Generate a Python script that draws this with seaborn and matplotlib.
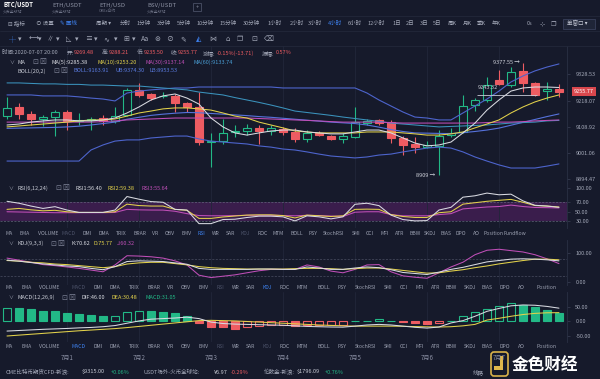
import numpy as np
import pandas as pd
import matplotlib
matplotlib.use("Agg")
import matplotlib.pyplot as plt
from matplotlib.patches import Rectangle, FancyBboxPatch
from matplotlib.transforms import blended_transform_factory
import seaborn as sns

# ---------------- data ----------------
day_labels = ["7月1", "7月2", "7月3", "7月4", "7月5", "7月6", "7月7"]
day_first_candle = [5, 11, 17, 23, 29, 35, 41]

opens = [9155, 9194, 9162, 9143, 9150, 9170, 9134, 9139, 9149, 9136,
         9159, 9263, 9245, 9237, 9238, 9208, 9194, 9048, 9052, 9087,
         9092, 9106, 9094, 9101, 9090, 9058, 9086, 9073, 9059, 9066,
         9127, 9138, 9131, 9062, 9037, 9027, 9030, 9076, 9090, 9201,
         9224, 9305, 9284, 9342, 9294, 9260, 9269.48]
highs = [9235, 9208, 9176, 9160, 9180, 9180, 9166, 9152, 9159, 9193,
         9271, 9291, 9250, 9256, 9249, 9214, 9256, 9085, 9145, 9118,
         9124, 9118, 9118, 9111, 9104, 9097, 9095, 9076, 9083, 9194,
         9145, 9145, 9138, 9072, 9066, 9051, 9097, 9104, 9242, 9231,
         9316, 9346, 9360, 9377.55, 9298, 9298, 9288.21]
lows = [9145, 9141, 9118, 9114, 9072, 9097, 9117, 9097, 9120, 9125,
        9155, 9235, 9221, 9229, 9173, 9173, 9034, 8942, 9041, 9066,
        9076, 9038, 9076, 9076, 9048, 9048, 9072, 9055, 9044, 9062,
        9118, 9118, 9044, 8993, 9002, 9024, 8909, 9066, 9086, 9176,
        9214, 9286, 9277, 9256, 9238, 9224, 9235.50]
closes = [9190, 9163, 9143, 9150, 9170, 9134, 9140, 9141, 9134, 9155,
          9263, 9242, 9231, 9239, 9208, 9194, 9048, 9052, 9085, 9093,
          9105, 9094, 9104, 9087, 9058, 9083, 9076, 9059, 9072, 9129,
          9134, 9125, 9062, 9034, 9027, 9034, 9072, 9086, 9197, 9222,
          9284, 9288, 9340, 9294, 9242, 9267, 9255.77]

ma5 = [9118, 9122, 9130, 9135, 9139, 9139, 9135, 9135, 9139, 9147,
       9168, 9193, 9222, 9239, 9247, 9230, 9205, 9147, 9110, 9085,
       9076, 9085, 9093, 9097, 9097, 9089, 9085, 9081, 9081, 9089,
       9097, 9097, 9085, 9064, 9043, 9031, 9035, 9047, 9085, 9126,
       9180, 9222, 9259, 9272, 9276, 9276, 9274]
ma10 = [9110, 9114, 9118, 9122, 9126, 9130, 9135, 9139, 9139, 9143,
        9155, 9168, 9176, 9185, 9189, 9189, 9185, 9180, 9168, 9155,
        9147, 9130, 9118, 9106, 9093, 9089, 9085, 9085, 9085, 9085,
        9089, 9089, 9089, 9085, 9081, 9076, 9076, 9081, 9089, 9106,
        9122, 9139, 9168, 9193, 9214, 9230, 9243]
ma30 = [9130, 9130, 9130, 9130, 9130, 9130, 9130, 9130, 9132, 9135,
        9139, 9141, 9143, 9145, 9147, 9147, 9147, 9147, 9147, 9147,
        9147, 9145, 9143, 9141, 9139, 9137, 9135, 9132, 9130, 9130,
        9130, 9130, 9128, 9126, 9126, 9126, 9126, 9126, 9126, 9126,
        9128, 9130, 9130, 9132, 9135, 9137, 9139]
ma60 = [9293, 9293, 9291, 9289, 9289, 9287, 9287, 9284, 9284, 9282,
        9280, 9280, 9276, 9272, 9268, 9264, 9255, 9249, 9243, 9232,
        9222, 9212, 9201, 9189, 9176, 9170, 9164, 9158, 9151, 9145,
        9139, 9133, 9126, 9122, 9118, 9114, 9110, 9112, 9114, 9116,
        9118, 9122, 9126, 9128, 9130, 9135, 9137]
boll_mid = [9104, 9105, 9106, 9107, 9108, 9110, 9113, 9118, 9124, 9130,
            9142, 9150, 9158, 9163, 9167, 9170, 9169, 9166, 9163, 9160,
            9157, 9153, 9150, 9146, 9142, 9138, 9134, 9130, 9127, 9124,
            9118, 9109, 9099, 9091, 9085, 9084, 9083, 9082, 9086, 9091,
            9097, 9105, 9117, 9129, 9141, 9153, 9164]
boll_ub = [9243, 9243, 9243, 9239, 9239, 9239, 9235, 9230, 9226, 9218,
           9251, 9259, 9264, 9268, 9272, 9272, 9276, 9276, 9276, 9276,
           9276, 9276, 9276, 9272, 9272, 9272, 9272, 9272, 9272, 9272,
           9251, 9222, 9197, 9172, 9151, 9147, 9139, 9139, 9168, 9197,
           9226, 9259, 9297, 9322, 9343, 9359, 9372]
boll_lb = [8968, 8968, 8968, 8968, 8968, 8968, 8968, 9014, 9035, 9051,
           9056, 9056, 9064, 9068, 9072, 9072, 9060, 9051, 9047, 9043,
           9039, 9031, 9026, 9018, 9014, 9006, 8997, 8989, 8985, 8981,
           8985, 8993, 8997, 9006, 9014, 9022, 9026, 9022, 9006, 8985,
           8968, 8952, 8939, 8939, 8939, 8947, 8956]

price_ticks = [9328.53, 9218.07, 9108.92, 9001.06, 8894.47]
last_price = 9255.77
max_idx, max_price = 43, 9377.55
min_idx, min_price = 36, 8909
drawn_line_price = 9243.32

rsi1 = [72, 67.9, 62, 57, 60.7, 53.6, 48.6, 48.6, 48.6, 53.6,
        82, 76.4, 71.4, 70, 55, 53.6, 25, 25, 33.6, 34.3,
        37.9, 40.7, 40.7, 39.3, 30.7, 41.4, 39.3, 35, 39.3, 65.7,
        67.9, 62.9, 42.9, 33.6, 30.7, 31.4, 53.6, 59.3, 80.7, 83.6,
        89.3, 85.7, 87, 72.9, 63.6, 62, 59.3]
rsi2 = [55, 57, 54, 52, 53, 50, 48.6, 48.6, 48.6, 50,
        66, 63, 62, 62, 55, 53, 36, 36, 39, 41,
        43, 43.5, 43.5, 42, 37, 43, 41.5, 40, 41.5, 55,
        55.5, 55, 44, 40, 38, 38, 48, 50, 66, 69,
        72, 74, 76, 70, 63, 62, 60]
rsi3 = [50, 49.5, 49, 48.5, 48, 48, 48, 48, 48, 48.5,
        55, 54, 53.6, 53.5, 51, 46, 42, 41.5, 41.5, 42,
        42.5, 42.5, 42.5, 42, 41.5, 42.5, 42, 41, 40, 49,
        50, 50, 44, 41.5, 41.5, 41.5, 44, 46, 56, 58,
        60, 61, 64, 61, 59, 58.6, 58]
rsi_ticks = [30, 50, 70, 100]

k_line = [75.3, 71.8, 67, 62.4, 58.8, 55.3, 53, 47, 42.4, 53,
          70.6, 73, 71.8, 70.6, 65.9, 61.2, 47, 43.5, 43.5, 43.5,
          43.5, 44.7, 44.7, 43.5, 43.5, 51.8, 48.2, 43.5, 43.5, 48.2,
          51.8, 49.4, 42.4, 32.9, 29.4, 25.9, 34.1, 43.5, 50.6, 60,
          69.4, 74.1, 78.8, 80, 78.8, 76.5, 72.9]
d_line = [74, 72, 68, 66, 62, 60, 56.5, 53, 49.4, 53,
          62, 66, 68, 68, 63.5, 59, 53, 49.4, 47, 46,
          44.7, 44.7, 44.7, 44.7, 46, 47, 47, 46, 43.5, 46,
          48.2, 48.2, 44.7, 40, 35.3, 30.6, 31.8, 37.6, 42.4, 49.4,
          55.3, 62.4, 68.2, 74, 78.8, 78.8, 76.5]
j_line = [82.4, 75.3, 68.2, 60, 56.5, 51.8, 47, 41.2, 35.3, 58.8,
          90.6, 89.4, 87, 82.4, 72.9, 58.8, 23.5, 15.3, 20, 24.7,
          31.8, 38.8, 43.5, 43.5, 43.5, 58.8, 51.8, 37.6, 31.8, 43.5,
          58.8, 60, 35.3, 21.2, 16.5, 12.9, 31.8, 51.8, 68.2, 94.1,
          109.4, 112.9, 108.2, 103.5, 94.1, 80, 63.5]
kdj_ticks = [0, 100]

dif = [-33, -31, -29, -27, -25.5, -24, -22, -20.5, -18, -14,
       -6, 2, 8, 10, 12, 15, 10, -2, -7, -9,
       -10, -11, -12, -13, -15, -17, -18, -19, -19.5, -16,
       -12, -10, -12, -16, -20, -22.7, -19, -5, 3, 18,
       35, 45, 54, 57, 56, 52, 46]
dea = [-50, -47, -44, -41, -38, -35, -32, -29.5, -27, -24.5,
       -21, -17, -13, -9, -5, -1, 3, 4, 3, 2,
       0, -2, -4, -6, -8, -10, -12, -13.5, -15, -16,
       -16, -16, -16, -16.5, -17.5, -18.5, -19, -18, -15, -10,
       5, 11, 18, 24, 28, 30, 30.5]
macd_hist = [45.5, 45, 42, 37.5, 36.4, 30.7, 26, 22.7, 19.3, 19.8,
             31.8, 36.4, 36, 34, 28.4, 20.5, -5.7, -19.3, -20.5, -25,
             -19.3, -14, -13.8, -13.6, -14, -13.8, -13.6, -13.4, -11.4, 2,
             3, 8, 2, -3.4, -5.7, -10, -5.7, 1.5, 19.3, 31.8,
             43, 54.5, 62.5, 56.8, 48.9, 39.8, 30.7]
macd_ticks = [-50, 0, 50]

index_names_a = ["MA", "EMA", "VOLUME", "MACD", "DMI", "DMA", "TRIX", "BRAR", "VR", "OBV",
                 "EMV", "RSI", "WR", "SAR", "KDJ", "ROC", "MTM", "BOLL", "PSY", "StochRSI",
                 "SMI", "CCI", "MFI", "ATR", "BBW", "SKDJ", "BIAS", "DPO", "AO", "Position", "Fundflow"]
index_names_b = index_names_a[:-1]
periods = ["分时", "1分钟", "3分钟", "5分钟", "10分钟", "15分钟", "30分钟", "1小时", "2小时",
           "3小时", "4小时", "6小时", "12小时", "1日", "2日", "3日", "5日", "周K", "月K", "季K", "年K"]

# ---------------- style ----------------
BG = "#161a2b"
TXT = "#a3a8b8"
DIM = "#4b5168"
BLUE_TXT = "#3e82f0"
GREEN = "#22b886"
RED = "#ee5c62"
GRID = "#21263a"
C_MA5 = "#d9dbe2"
C_MA10 = "#e3d24b"
C_MA30 = "#c04fb8"
C_MA60 = "#3b93bd"
C_BOLL = "#4d64cc"
RSI_FILL = "#3a1d4c"
FS = 4.0

sns.set_theme(style="dark", rc={"axes.facecolor": BG, "figure.facecolor": BG})
plt.rcParams["font.family"] = ["Noto Sans CJK SC", "DejaVu Sans"]
plt.rcParams["axes.unicode_minus"] = False

W, H = 600, 379


def rect(x0, y0, x1, y1):
    return [x0 / W, 1 - y1 / H, (x1 - x0) / W, (y1 - y0) / H]


fig = plt.figure(figsize=(6, 3.79), dpi=100, facecolor=BG)
ax_main = fig.add_axes(rect(0, 46, 567, 183))
ax_rsi = fig.add_axes(rect(0, 183, 567, 228))
ax_kdj = fig.add_axes(rect(0, 240, 567, 285))
ax_macd = fig.add_axes(rect(0, 292, 567, 342))
XL = (-0.583, 46.67)
idx = np.arange(len(closes))


def long_df(series):
    return pd.DataFrame({
        "idx": np.concatenate([idx for _ in series]),
        "value": np.concatenate([np.asarray(v, float) for v in series.values()]),
        "series": np.concatenate([[k] * len(idx) for k in series]),
    })


def style(ax, ylim, ticks, labels):
    ax.set_facecolor(BG)
    ax.set_xlim(*XL)
    ax.set_ylim(*ylim)
    for s in ax.spines.values():
        s.set_visible(False)
    ax.spines["right"].set_visible(True)
    ax.spines["right"].set_color("#2a3044")
    ax.spines["right"].set_linewidth(0.6)
    ax.set_xticks([])
    ax.yaxis.tick_right()
    ax.set_yticks(ticks)
    ax.set_yticklabels(labels)
    ax.tick_params(axis="y", length=2, width=0.5, color="#3a4055",
                   labelsize=FS, labelcolor=TXT, pad=4)
    ax.set_xlabel("")
    ax.set_ylabel("")
    ax.grid(False)
    for d in day_first_candle:
        ax.axvline(d, color=GRID, lw=0.6, zorder=0)


# ---------------- main candlestick panel ----------------
for i in idx:
    o, h, l, c = opens[i], highs[i], lows[i], closes[i]
    up = c >= o
    col = GREEN if up else RED
    ax_main.vlines(i, l, h, color=col, lw=0.8, zorder=2)
    ax_main.bar(i, max(abs(c - o), 1.5), bottom=min(o, c), width=0.64,
                facecolor=BG if up else col, edgecolor=col, linewidth=0.8, zorder=3)

boll_df = long_df({"UB": boll_ub, "MID": boll_mid, "LB": boll_lb})
sns.lineplot(data=boll_df, x="idx", y="value", hue="series",
             palette={"UB": C_BOLL, "MID": "#5672dc", "LB": C_BOLL},
             legend=False, ax=ax_main, linewidth=0.8, estimator=None, sort=False, zorder=4)
ma_df = long_df({"MA60": ma60, "MA30": ma30, "MA10": ma10, "MA5": ma5})
sns.lineplot(data=ma_df, x="idx", y="value", hue="series",
             palette={"MA5": C_MA5, "MA10": C_MA10, "MA30": C_MA30, "MA60": C_MA60},
             legend=False, ax=ax_main, linewidth=0.75, estimator=None, sort=False, zorder=5)
style(ax_main, (8876.7, 9446.6), price_ticks, [f"{t:.2f}" for t in price_ticks])

tr = blended_transform_factory(ax_main.transAxes, ax_main.transData)
ax_main.text(1.012, last_price, f"{last_price:.2f}", transform=tr, color="white",
             fontsize=FS, va="center", ha="left", clip_on=False, zorder=30,
             bbox=dict(boxstyle="square,pad=0.35", fc="#d9474d", ec="none"))
ax_main.text(max_idx - 0.3, max_price, f"{max_price:.2f} →", color="#d0d3dc",
             fontsize=FS, ha="right", va="center", zorder=6)
ax_main.text(min_idx - 0.3, min_price, f"{min_price:g} →", color="#d0d3dc",
             fontsize=FS, ha="right", va="center", zorder=6)
ax_main.hlines(drawn_line_price, 39.2, 44.2, color="#c9ccd6", lw=0.6, zorder=6)
ax_main.text(39.2, drawn_line_price + 30, f"{drawn_line_price:.2f}", color="#d0d3dc",
             fontsize=FS, ha="left", va="center", zorder=6)

# ---------------- RSI ----------------
ax_rsi.axhspan(30, 70, color=RSI_FILL, lw=0, zorder=0)
for lv in (30, 70):
    ax_rsi.axhline(lv, color="#62667a", lw=0.5, ls=(0, (3, 2)), zorder=1)
sns.lineplot(data=long_df({"RSI3": rsi3, "RSI2": rsi2, "RSI1": rsi1}), x="idx", y="value",
             hue="series", palette={"RSI1": C_MA5, "RSI2": C_MA10, "RSI3": C_MA30},
             legend=False, ax=ax_rsi, linewidth=0.75, estimator=None, sort=False, zorder=3)
style(ax_rsi, (15.8, 110.5), rsi_ticks, [f"{t:.2f}" for t in rsi_ticks])

# ---------------- KDJ ----------------
for lv in (20, 80):
    ax_kdj.axhline(lv, color="#4a4e62", lw=0.5, ls=(0, (3, 2)), zorder=1)
sns.lineplot(data=long_df({"J": j_line, "D": d_line, "K": k_line}), x="idx", y="value",
             hue="series", palette={"K": C_MA5, "D": C_MA10, "J": C_MA30},
             legend=False, ax=ax_kdj, linewidth=0.75, estimator=None, sort=False, zorder=3)
style(ax_kdj, (-10.3, 144.8), kdj_ticks, [f"{t:.2f}" for t in kdj_ticks])

# ---------------- MACD ----------------
prev = None
for i, v in enumerate(macd_hist):
    col = GREEN if v >= 0 else RED
    hollow = prev is None or v > prev
    ax_macd.bar(i, v, width=0.64, facecolor=BG if hollow else col, edgecolor=col,
                linewidth=0.8, zorder=3)
    prev = v
sns.lineplot(data=long_df({"DEA": dea, "DIF": dif}), x="idx", y="value", hue="series",
             palette={"DIF": C_MA5, "DEA": C_MA10}, legend=False, ax=ax_macd,
             linewidth=0.75, estimator=None, sort=False, zorder=4)
style(ax_macd, (-70.7, 101.7), macd_ticks, [f"{t:.2f}" for t in macd_ticks])

# ---------------- overlay texts ----------------
ov = fig.add_axes([0, 0, 1, 1], facecolor="none", zorder=20)
ov.set_xlim(0, W)
ov.set_ylim(H, 0)
ov.axis("off")


def T(x, y, s, c=TXT, fs=FS, ha="left", **kw):
    ov.text(x, y, s, color=c, fontsize=fs, va="center", ha=ha, **kw)


# tabs
for x, name, sub in [(3, "BTC/USDT", "火币全球站"), (52, "ETH/USDT", "火币全球站"),
                     (99, "ETH/USD", "OKEx合约"), (147, "BSV/USDT", "火币全球站")]:
    first = name == "BTC/USDT"
    T(x, 5, name, "#ffffff" if first else "#8d92a4", fs=4.3, fontweight="bold" if first else "normal")
    T(x, 11.5, sub, "#6f7488", fs=2.8)
ov.add_patch(Rectangle((193, 3), 8, 8, fill=False, ec="#4a5066", lw=0.6))
T(197, 7, "+", "#8d92a4", fs=4, ha="center")
for yy in (16, 31, 45.5):
    ov.plot([0, W], [yy, yy], color="#22283a", lw=0.6)

# menu row
T(8, 23.5, "⊟ 指标")
T(36, 23.5, "⊙ 设置")
T(60, 23.5, "✎ 画线", BLUE_TXT)
T(96, 23.5, "周期 ▾")
per_x = [120, 137, 157, 177, 197, 220, 243, 268, 290, 308, 328, 348, 368, 393, 406, 420, 433,
         448, 463, 477, 492]
for px_, p in zip(per_x, periods):
    T(px_, 23.5, p, BLUE_TXT if p == "4小时" else TXT)
T(527, 23.5, "0s")
T(540, 23.5, "⊹", fs=4.5)
T(551, 23.5, "❐", fs=4.5)
ov.add_patch(Rectangle((563, 18.5), 32, 10.5, fc="#1f2538", ec="#39405a", lw=0.6))
T(567, 23.7, "单窗口 ▾", "#c3c7d4")

# tool row
tools = [(9, "┼", BLUE_TXT), (18, "▾", TXT), (29, "⟷", TXT), (38, "▾", TXT), (47, "∥", TXT),
         (56, "▾", TXT), (66, "◺", TXT), (75, "▾", TXT), (85, "≡", TXT), (94, "▾", TXT),
         (103, "∿", TXT), (114, "▾", TXT), (123, "⊞", TXT), (132, "▾", TXT), (141, "Aa", TXT),
         (154, "⊛", TXT), (166, "⊘", TXT), (180, "✎", TXT), (196, "◭", BLUE_TXT), (209, "⋈", TXT),
         (225, "⌂", TXT), (237, "❐", TXT), (251, "⊡", TXT), (264, "⌫", TXT)]
for x, s, c in tools:
    T(x, 39, s, c, fs=5)

# info line
T(2, 53, "时间:2020-07-07 20:00")
for lx, lab, vx, val in [(67, "开:", 74, "9269.48"), (102, "高:", 109, "9288.21"),
                         (137, "低:", 144, "9235.50"), (171, "收:", 178, "9255.77"),
                         (203, "涨幅:", 217, "-0.15%(-13.71)"), (262, "振幅:", 276, "0.57%")]:
    T(lx, 53, lab)
    T(vx, 53, val, RED)


def icons(x, y):
    T(x, y, "⊡", "#7d8296", fs=5)
    T(x + 7, y, "⊠", "#7d8296", fs=5)


# legends
T(9, 62, "∨", fs=3.5)
T(18, 62, "MA", "#c9ccd6")
icons(32, 62)
T(52, 62, "MA(5):9285.38", C_MA5)
T(97, 62, "MA(10):9253.20", C_MA10)
T(145, 62, "MA(30):9137.14", C_MA30)
T(193, 62, "MA(60):9133.74", "#4a9fd6")
T(18, 71, "BOLL(20,2)", "#c9ccd6")
icons(53, 71)
T(73, 71, "BOLL:9163.91", "#5a7be0")
T(115, 71, "UB:9374.30", "#5a7be0")
T(150, 71, "LB:8953.53", "#5a7be0")

T(8, 188.5, "∨", fs=3.5)
T(17, 188.5, "RSI(6,12,24)", "#c9ccd6")
icons(55, 188.5)
T(75, 188.5, "RSI1:56.40", C_MA5)
T(108, 188.5, "RSI2:59.38", C_MA10)
T(141, 188.5, "RSI3:55.64", C_MA30)

T(8, 243.5, "∨", fs=3.5)
T(17, 243.5, "KDJ(9,3,3)", "#c9ccd6")
icons(50, 243.5)
T(71, 243.5, "K:70.62", C_MA5)
T(94, 243.5, "D:75.77", C_MA10)
T(117, 243.5, "J:60.32", C_MA30)

T(8, 297.5, "∨", fs=3.5)
T(17, 297.5, "MACD(12,26,9)", "#c9ccd6")
icons(61, 297.5)
T(82, 297.5, "DIF:46.00", C_MA5)
T(112, 297.5, "DEA:30.48", C_MA10)
T(145, 297.5, "MACD:31.05", GREEN)

# indicator name rows
xa = [9.6, 24.9, 47.8, 68.9, 87.3, 104, 121.7, 139.7, 155, 169.5, 186.4, 201.7, 216.2, 230.8,
      245.7, 262.2, 278.2, 296.6, 313, 334, 356, 370, 384.6, 400, 415, 430.5, 446, 461, 476.5,
      493.7, 514.7]
xb = [9.6, 26.8, 49, 78.5, 97.6, 114.8, 134, 153.8, 170.3, 185.6, 203.6, 220, 235.4, 250.7,
      267, 284.3, 302.3, 323.4, 341.8, 365.5, 388.4, 403.8, 420.2, 435.5, 451.6, 470, 486.8,
      504.4, 521.2, 546.5]


def index_row(y, names, xs, active):
    for x, n in zip(xs, names):
        if n == active:
            c = BLUE_TXT
        elif n in ("RSI", "KDJ", "MACD"):
            c = DIM
        else:
            c = "#9ba0b1"
        T(x, y, n, c, fs=3.7, ha="center")


index_row(233.5, index_names_a, xa, "RSI")
index_row(287.5, index_names_b, xb, "KDJ")
index_row(347, index_names_b, xb, "MACD")

# date axis
for d, lab in zip(day_first_candle, day_labels):
    T(7 + 12 * d, 358, lab, "#8a8fa3", fs=4.4, ha="center")

# bottom ticker
T(6, 372, "CME比特币期货CFD-新浪:")
T(82, 372, "$9315.00", "#c9ccd6")
T(111, 372, "+0.06%", GREEN)
T(143.5, 372, "USDT场外-火币全球站:")
T(214, 372, "¥6.97", "#c9ccd6")
T(231, 372, "-0.29%", RED)
T(264, 372, "伦敦金-新浪:")
T(297, 372, "$1796.09", "#c9ccd6")
T(325, 372, "+0.76%", GREEN)
T(473, 372, "线路")

# watermark logo
ov.add_patch(FancyBboxPatch((491, 352), 17, 24, boxstyle="round,pad=0,rounding_size=3",
                            ec="#d9b24a", fc=BG, lw=1.2))
ov.add_patch(Rectangle((500, 356), 3, 14, fc="#e0b84c", ec="none"))
ov.add_patch(Rectangle((494, 366), 6, 4, fc="#e0b84c", ec="none"))
T(512, 364.5, "金色财经", "#ffffff", fs=12, fontweight="bold")

fig.savefig("out.png", dpi=100, facecolor=BG)
